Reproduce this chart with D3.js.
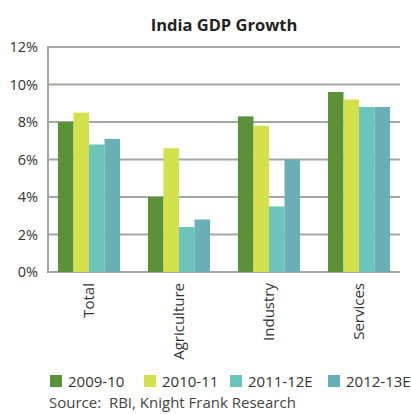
<!DOCTYPE html>
<html><head><meta charset="utf-8">
<script src="https://cdnjs.cloudflare.com/ajax/libs/d3/7.8.5/d3.min.js"></script>
<style>body{margin:0;background:#fff;}svg{display:block;font-family:"Open Sans","Noto Sans",sans-serif;}</style>
</head><body>
<script>
const categories = ["Total","Agriculture","Industry","Services"];
const seriesNames = ["2009-10","2010-11","2011-12E","2012-13E"];
const s2009 = [8.0, 4.0, 8.3, 9.6];
const s2010 = [8.5, 6.6, 7.8, 9.2];
const s2011 = [6.8, 2.4, 3.5, 8.8];
const s2012 = [7.1, 2.8, 6.0, 8.8];
const colors = ["#5a9139","#d5e04d","#6cc5bb","#6aaeb6"];
const yTicks = [0,2,4,6,8,10,12];
const seriesValues = [s2009,s2010,s2011,s2012];

const W=411,H=414;
const svg=d3.select("body").append("svg").attr("width",W).attr("height",H);
const y=d3.scaleLinear().domain([0,12]).range([272,47]);
const x0=d3.scaleBand().domain(categories).range([44,404]).paddingInner(0.31).paddingOuter(0.155);
const x1=d3.scaleBand().domain(seriesNames).range([0,x0.bandwidth()]);

svg.append("text").attr("x",224).attr("y",31).attr("text-anchor","middle")
  .attr("font-size",16.5).attr("font-weight","bold").attr("fill","#222").text("India GDP Growth");

// gridlines
const gx1=48, gx2=400;
svg.append("g").selectAll("line").data(yTicks).join("line")
  .attr("x1",gx1).attr("x2",gx2).attr("y1",d=>y(d)).attr("y2",d=>y(d))
  .attr("stroke","#a2a8a2").attr("stroke-width",2);
svg.append("line").attr("x1",gx1).attr("x2",gx1).attr("y1",y(12)-1).attr("y2",y(0)+1)
  .attr("stroke","#a2a8a2").attr("stroke-width",2);

// y labels
svg.append("g").selectAll("text").data(yTicks).join("text")
  .attr("x",38).attr("y",d=>y(d)+5).attr("text-anchor","end")
  .attr("font-size",14.5).attr("fill","#333").text(d=>d+"%");

// bars
const g=svg.append("g");
seriesNames.forEach((s,si)=>{
  g.append("g").selectAll("rect").data(categories).join("rect")
    .attr("x",(c)=>x0(c)+x1(s))
    .attr("width",x1.bandwidth())
    .attr("y",(c,i)=>y(seriesValues[si][i]))
    .attr("height",(c,i)=>y(0)-y(seriesValues[si][i]))
    .attr("fill",colors[si]);
});

// category labels
svg.append("g").selectAll("text").data(categories).join("text")
  .attr("transform",c=>`translate(${x0(c)+x0.bandwidth()/2+5},283) rotate(-90)`)
  .attr("text-anchor","end").attr("font-size",15).attr("fill","#333").text(c=>c);

// legend
const legX=[50,144,230,328];
const lg=svg.append("g");
seriesNames.forEach((s,i)=>{
  lg.append("rect").attr("x",legX[i]).attr("y",375).attr("width",12).attr("height",12).attr("fill",colors[i]);
  lg.append("text").attr("x",legX[i]+18).attr("y",386.5).attr("font-size",15).attr("fill","#333").text(s);
});

svg.append("text").attr("x",49).attr("y",408).attr("font-size",15).attr("fill","#444")
  .attr("xml:space","preserve").text("Source:  RBI, Knight Frank Research");
</script>
</body></html>
